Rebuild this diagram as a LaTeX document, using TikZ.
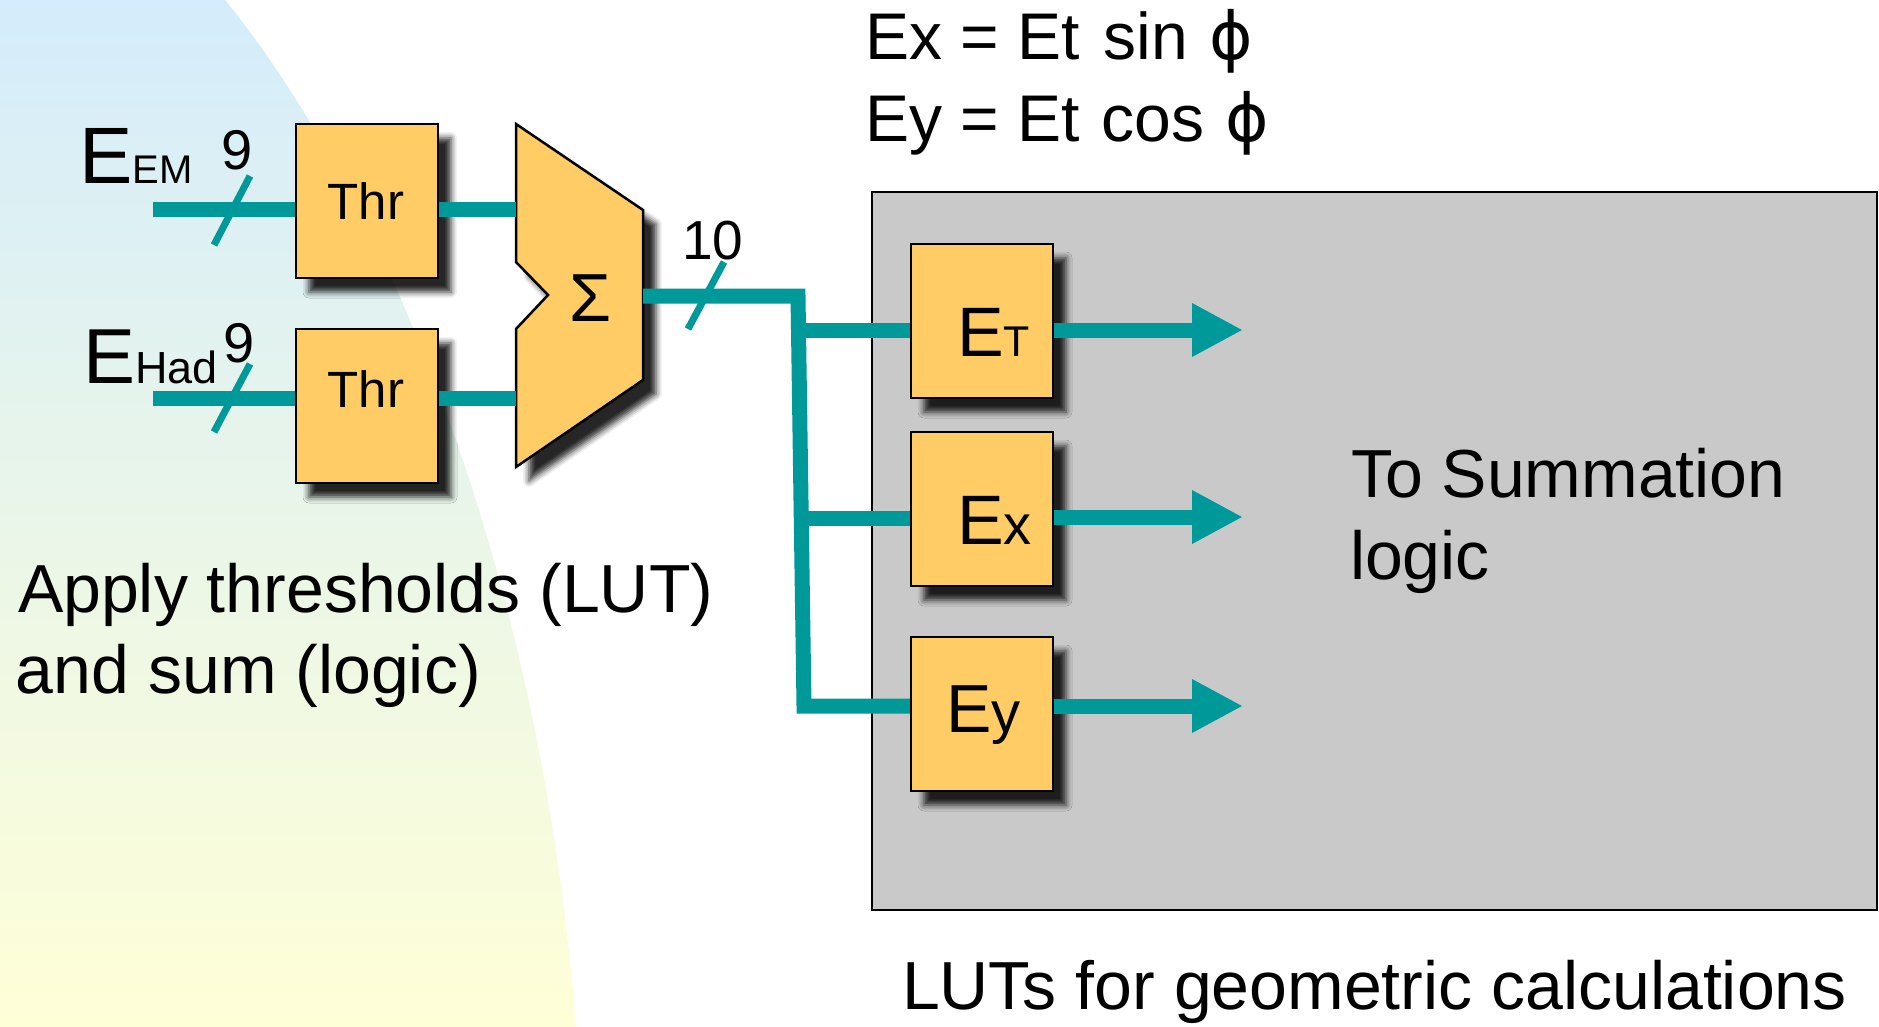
\documentclass[tikz,border=0pt]{standalone}
\usepackage{fontspec}
\setmainfont{Liberation Sans}
\newfontfamily\symfont{DejaVu Sans}
\usetikzlibrary{shadows.blur,arrows.meta}
\definecolor{wirec}{RGB}{0,153,153}
\definecolor{boxfill}{RGB}{255,204,102}
\definecolor{panel}{RGB}{201,201,201}
\definecolor{bgtop}{RGB}{212,236,251}
\definecolor{bgbot}{RGB}{255,255,215}
\newcommand\fsz[1]{\fontsize{#1}{#1}\selectfont}
\begin{document}
\begin{tikzpicture}[x=1pt,y=-1pt,
  dropsh/.style={blur shadow={shadow xshift=13pt,shadow yshift=-14pt,shadow blur radius=6pt,shadow opacity=85}},
  box/.style={draw=black,line width=2.5pt,fill=boxfill,minimum width=142pt,minimum height=154pt,inner sep=0pt,dropsh},
  wire/.style={draw=wirec,line width=15pt},
  tick/.style={draw=wirec,line width=7pt},
  txt/.style={inner sep=0pt,outer sep=0pt,anchor=base west,text=black},
  arr/.style={wire,-{Triangle[length=51pt,width=50pt]}}]
\useasboundingbox (0,0) rectangle (1879,1027);
% background
\shade[top color=bgtop,bottom color=bgbot] (0,0) -- (225,0) .. controls (380,190) and (540,560) .. (576,1027) -- (0,1027) -- cycle;
% grey panel
\node[draw=black,line width=2.5pt,fill=panel,minimum width=1005pt,minimum height=718pt,inner sep=0pt] (panel) at (1374.5,551) {};
% threshold boxes
\node[box] (thr1) at (367,201) {};
\node[box] (thr2) at (367,406) {};
% adder
\draw[line width=2.5pt,fill=boxfill,dropsh] (516,124) -- (643,210) -- (643,380) -- (516,467) -- (516,329) -- (548,295) -- (516,262) -- cycle;
\coordinate (sumin1) at (516,210);
\coordinate (sumin2) at (516,398);
\coordinate (sumout) at (643,296);
% LUT boxes
\node[box] (et) at (982,321) {};
\node[box] (ex) at (982,509) {};
\node[box] (ey) at (982,714) {};
% wires
\coordinate (inEM) at (153,210);
\coordinate (inHad) at (153,398);
\draw[wire] (inEM) -- (inEM -| thr1.west);
\draw[wire] (inHad) -- (inHad -| thr2.west);
\draw[wire] (thr1.east |- sumin1) -- (sumin1);
\draw[wire] (thr2.east |- sumin2) -- (sumin2);
\coordinate (tt) at (798,296);
\coordinate (bb) at (804,706);
\coordinate (b1) at (799,330);
\coordinate (b2) at (801,518);
\draw[wire] (sumout) -- (tt) -- (bb) -- (bb -| ey.west);
\draw[wire] (b1) -- (b1 -| et.west);
\draw[wire] (b2) -- (b2 -| ex.west);
\coordinate (a1) at (1243,330);
\coordinate (a2) at (1243,517);
\coordinate (a3) at (1243,706);
\draw[arr] (a1 -| et.east) -- (a1);
\draw[arr] (a2 -| ex.east) -- (a2);
\draw[arr] (a3 -| ey.east) -- (a3);
% bus ticks
\draw[tick] (214,245) -- (250,176);
\draw[tick] (214,432) -- (250,364);
\draw[tick] (688,329) -- (724,262);
% texts
\node[txt] (eem) at (79,184) {\fsz{80}E\fsz{40}EM};
\node[txt] (ehad) at (83,383) {\fsz{78}E\fsz{45}Had};
\node[txt] (n9a) at (221,170) {\fsz{56}9};
\node[txt] (n9b) at (223,362) {\fsz{56}9};
\node[txt] (n10) at (682,259) {\fsz{55}10};
\node[txt,anchor=base] (thr1t) at (366,220) {\fsz{51}Thr};
\node[txt,anchor=base] (thr2t) at (366,407) {\fsz{51}Thr};
\node[txt,anchor=base] (sig) at (591,321) {\fsz{68}Σ};
\node[txt] (ett) at (957,356) {\fsz{70}E\fsz{43}T};
\node[txt] (ext) at (957,544) {\fsz{70}E\fsz{56}x};
\node[txt] (eyt) at (946,732) {\fsz{68}E\fsz{58}y};
\node[txt] (f1) at (865,60) {\fsz{66}Ex = Et\hspace{6pt} sin\hspace{3pt} {\symfont ϕ}};
\node[txt] (f2) at (865,142) {\fsz{66}Ey = Et\hspace{4pt} cos\hspace{3pt} {\symfont ϕ}};
\node[txt] (sum1) at (1351,497) {\fsz{68}To Summation};
\node[txt] (sum2) at (1350,579) {\fsz{68}logic};
\node[txt] (ap1) at (18,612) {\fsz{68}Apply thresholds (LUT)};
\node[txt] (ap2) at (16,693) {\fsz{68}and sum (logic)};
\node[txt] (luts) at (902,1009) {\fsz{68}LUTs for geometric calculations};
\end{tikzpicture}
\end{document}
